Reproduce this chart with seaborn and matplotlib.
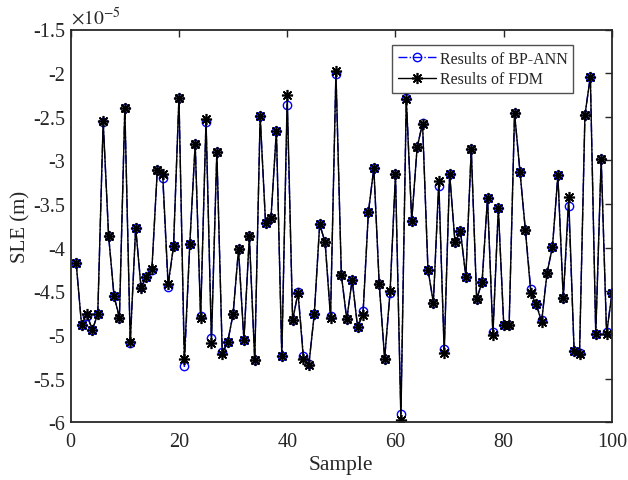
import numpy as np
import pandas as pd
import matplotlib
matplotlib.use("Agg")
import matplotlib.pyplot as plt
import seaborn as sns
from matplotlib.ticker import FuncFormatter, MultipleLocator

sample = list(range(1, 101))
fdm = [-4.17, -4.88, -4.76, -4.94, -4.76, -2.55, -3.86, -4.55, -4.80, -2.40,
       -5.08, -3.77, -4.46, -4.33, -4.24, -3.11, -3.16, -4.42, -3.98, -2.28,
       -5.27, -3.96, -2.81, -4.81, -2.53, -5.09, -2.90, -5.22, -5.08, -4.76,
       -4.02, -5.06, -3.87, -5.29, -2.49, -3.72, -3.66, -2.66, -5.24, -2.25,
       -4.83, -4.52, -5.28, -5.34, -4.76, -3.73, -3.94, -4.80, -1.98, -4.31,
       -4.82, -4.37, -4.91, -4.77, -3.59, -3.09, -4.42, -5.27, -4.50, -3.16,
       -5.97, -2.30, -3.69, -2.85, -2.58, -4.25, -4.63, -3.23, -5.21, -3.15,
       -3.94, -3.81, -4.33, -2.87, -4.59, -4.39, -3.43, -5.00, -3.55, -4.88,
       -4.88, -2.46, -3.13, -3.80, -4.52, -4.65, -4.85, -4.29, -3.99, -3.17,
       -4.58, -3.42, -5.18, -5.22, -2.48, -2.04, -4.99, -2.98, -4.99, -4.52]
bp_ann = [-4.17, -4.88, -4.78, -4.94, -4.76, -2.56, -3.86, -4.55, -4.81, -2.40,
          -5.09, -3.77, -4.45, -4.33, -4.25, -3.11, -3.20, -4.45, -3.98, -2.28,
          -5.36, -3.96, -2.81, -4.78, -2.56, -5.03, -2.90, -5.20, -5.08, -4.76,
          -4.02, -5.06, -3.87, -5.29, -2.49, -3.72, -3.66, -2.66, -5.24, -2.36,
          -4.83, -4.51, -5.24, -5.33, -4.76, -3.73, -3.94, -4.78, -2.01, -4.31,
          -4.82, -4.37, -4.91, -4.73, -3.59, -3.09, -4.42, -5.27, -4.52, -3.16,
          -5.90, -2.28, -3.69, -2.85, -2.57, -4.25, -4.63, -3.29, -5.16, -3.15,
          -3.94, -3.81, -4.33, -2.87, -4.59, -4.39, -3.43, -4.97, -3.55, -4.88,
          -4.88, -2.46, -3.13, -3.80, -4.47, -4.65, -4.83, -4.29, -3.99, -3.17,
          -4.58, -3.52, -5.18, -5.21, -2.48, -2.04, -4.99, -2.98, -4.97, -4.52]

label_bp = "Results of BP-ANN"
label_fdm = "Results of FDM"

sns.set_style("white")
plt.rcParams["font.family"] = ["Liberation Serif", "DejaVu Serif"]
plt.rcParams["axes.unicode_minus"] = False
plt.rcParams["mathtext.fontset"] = "stix"

fig = plt.figure(figsize=(6.28, 4.81), dpi=100)
ax = fig.add_axes([70.7/628, 57.7/481, 541.3/628, 392.8/481])

df = pd.DataFrame({"sample": sample, "bp": bp_ann, "fdm": fdm})

sns.lineplot(data=df, x="sample", y="bp", ax=ax, color="blue", linestyle="-.",
             linewidth=1.0, marker="o", markersize=6, markerfacecolor="none",
             markeredgecolor="blue", markeredgewidth=1.0, label=label_bp)
sns.lineplot(data=df, x="sample", y="fdm", ax=ax, color="black", linestyle="-",
             linewidth=1.0, marker=(8, 2, 0), markersize=8,
             markeredgecolor="black", markeredgewidth=1.2, label=label_fdm)

ax.set_xlim(0, 100)
ax.set_ylim(-6, -1.5)
ax.xaxis.set_major_locator(MultipleLocator(20))
ax.yaxis.set_major_locator(MultipleLocator(0.5))
ax.yaxis.set_major_formatter(FuncFormatter(lambda v, p: ("%g" % v)))
ax.tick_params(direction="in", length=5, width=1, top=True, right=True,
               labelsize=14.5, colors="#262626")
ax.tick_params(axis="x", pad=7)
ax.tick_params(axis="y", pad=4)
for s in ax.spines.values():
    s.set_linewidth(1.3)
    s.set_color("#262626")

ax.set_xlabel("Sample", fontsize=15.5, color="#262626", labelpad=3)
ax.set_ylabel("SLE (m)", fontsize=15, color="#262626", labelpad=2)
ax.text(0.0, 1.005, r"$\times 10^{-5}$", transform=ax.transAxes, ha="left",
        va="bottom", fontsize=14, color="#262626")

leg = ax.legend(loc="upper left", bbox_to_anchor=(0.5936, 0.9605), fontsize=11.5,
                frameon=True, fancybox=False, edgecolor="#262626",
                borderpad=0.35, handlelength=2.4, handletextpad=0.25, labelspacing=0.3,
                borderaxespad=0)
leg.get_frame().set_linewidth(1.0)

fig.savefig("out.png", dpi=100)
